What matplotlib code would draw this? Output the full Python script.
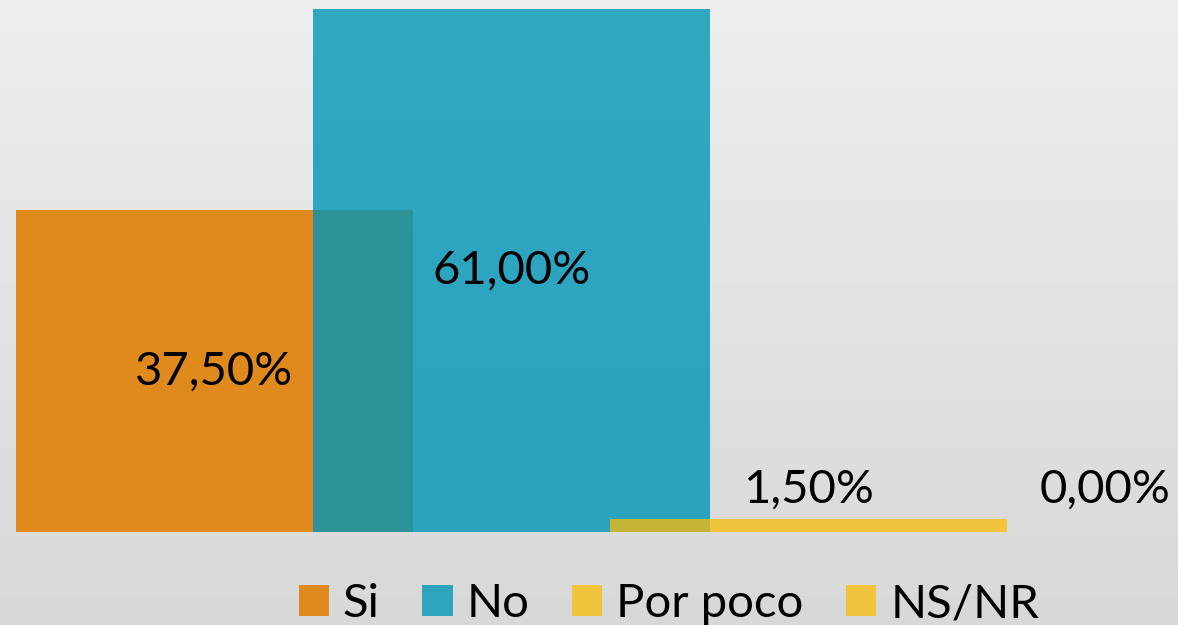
import numpy as np
import matplotlib
matplotlib.use("Agg")
import matplotlib.pyplot as plt
from matplotlib.patches import Patch

# Data
series = ["Si", "No", "Por poco", "NS/NR"]
values = [37.50, 61.00, 1.50, 0.00]
colors = ["#E08A1E", "#0096B7", "#FABC09", "#FABC09"]
alphas = [1.0, 0.8, 0.75, 0.75]
legend_colors = ["#E08A1E", "#2CA5BD", "#F2C43E", "#F2C43E"]

W, H = 1178, 625
FS = 34
fig = plt.figure(figsize=(W / 100, H / 100), dpi=100)

# gradient background
bg = fig.add_axes([0, 0, 1, 1], zorder=0)
grad = np.linspace(238, 216, 256)[:, None] / 255.0
bg.imshow(np.repeat(grad[:, :, None], 3, axis=2), aspect="auto", extent=[0, 1, 0, 1])
bg.set_axis_off()

base_px = 532
ax = fig.add_axes([0, (H - base_px) / H, 1, base_px / H], zorder=1)
ax.patch.set_alpha(0)

width = 1.0
step = 0.748
offsets = [i * step for i in range(len(series))]
small = [v for v in values if v <= 10]
outside_y = max(small) + 3.4
for off, v, c, a, name in zip(offsets, values, colors, alphas, series):
    ax.bar(off, v, width=width, color=c, alpha=a, align="center", linewidth=0)
    label = f"{v:.2f}".replace(".", ",") + "%"
    y = v / 2 if v > 10 else outside_y
    ax.text(off, y, label, ha="center", va="center", fontsize=FS, family="Lato",
            color="black")

# pixel mapping: Si bar left edge at x=16 px, bar width 397 px
ppu = 397.0
center0 = 16 + ppu / 2
ax.set_xlim(-center0 / ppu, (W - center0) / ppu)
ax.set_ylim(0, 61.0 * base_px / 523)
ax.set_axis_off()

handles = [Patch(facecolor=c, edgecolor="none") for c in legend_colors]
fig.legend(handles, series, loc="center", bbox_to_anchor=(669 / W, 1 - 604 / H),
           ncol=4, frameon=False, prop={"family": "Lato", "size": FS},
           handlelength=0.64, handleheight=0.64, handletextpad=0.3, columnspacing=0.9,
           borderaxespad=0, borderpad=0)

fig.savefig("out.png", dpi=100)
